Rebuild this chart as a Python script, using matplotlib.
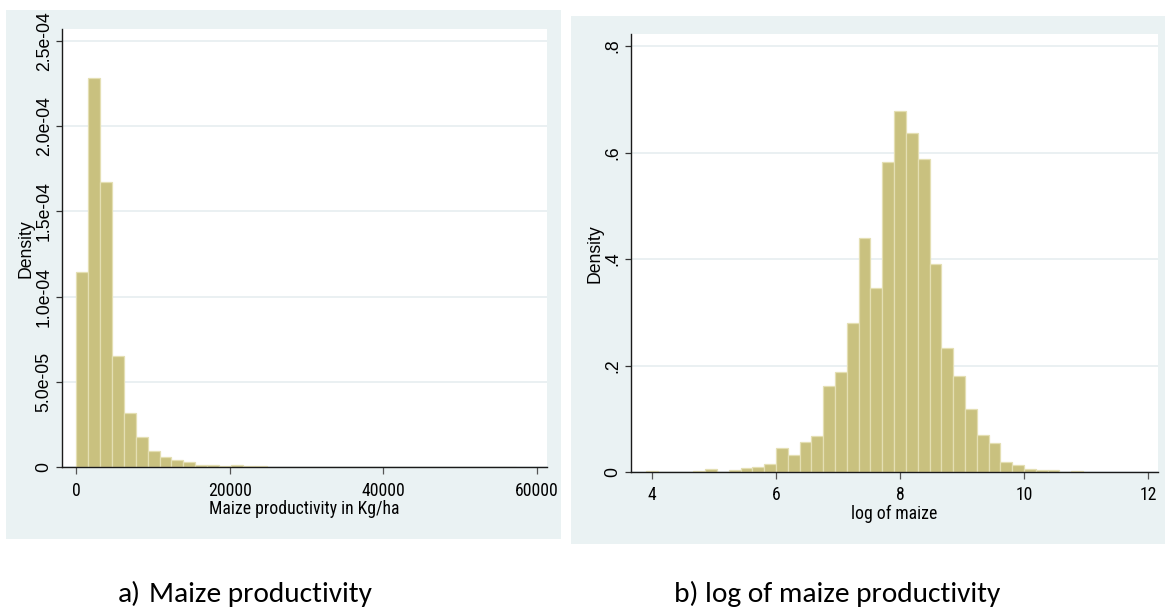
import matplotlib
matplotlib.use("Agg")
import numpy as np
import matplotlib.pyplot as plt
from matplotlib import font_manager
from matplotlib.patches import Rectangle


# Maize productivity (kg/ha): 37 equal-width bins, density scale
maize_bin_start = 49.3
maize_bin_width = 1547.0
maize_density = [
    1.147e-4, 2.284e-4, 1.674e-4, 6.52e-5, 3.19e-5, 1.75e-5, 9.5e-6, 5.8e-6,
    4.5e-6, 3.3e-6, 1.4e-6, 1.2e-6, 0.9e-6, 1.2e-6, 0.7e-6, 0.5e-6,
    0.2e-6, 0.4e-6, 0.1e-6, 0.4e-6, 0.4e-6, 0.4e-6, 0.1e-6, 0.4e-6,
    0, 0, 0, 0, 0, 0, 0, 0, 0, 0, 0, 0, 0.4e-6,
]

# log of maize productivity: 37 equal-width bins, density scale
log_bin_start = 3.898
log_bin_width = 0.1907
log_density = [
    0.0025, 0, 0, 0, 0.002, 0.005, 0, 0.003, 0.007, 0.009, 0.015, 0.046,
    0.032, 0.057, 0.068, 0.162, 0.188, 0.280, 0.439, 0.345, 0.582, 0.678,
    0.636, 0.588, 0.391, 0.233, 0.180, 0.118, 0.070, 0.055, 0.018, 0.013,
    0.005, 0.003, 0.003, 0, 0.002,
]

maize_xticks = [0, 20000, 40000, 60000]
maize_yticks = [0, 5e-05, 1e-04, 1.5e-04, 2e-04, 2.5e-04]
maize_ytick_labels = ["0", "5.0e-05", "1.0e-04", "1.5e-04", "2.0e-04", "2.5e-04"]
log_xticks = [4, 6, 8, 10, 12]
log_yticks = [0, 0.2, 0.4, 0.6, 0.8]
log_ytick_labels = ["0", ".2", ".4", ".6", ".8"]

BG = "#eaf2f3"
GRID = "#e6eef0"
BAR = "#c9c17f"
BAR_EDGE = "#e4dfb3"
AXIS = "#1a1a1a"

installed = {f.name for f in font_manager.fontManager.ttflist}


def pick(*names):
    for n in names:
        if n in installed:
            return n
    return "DejaVu Sans"


SANS = pick("Liberation Sans", "Arial")
NARROW = pick("Liberation Sans Narrow", "Arial Narrow", "Roboto Condensed", "Liberation Sans")
CAPTION = pick("Carlito", "Calibri", "Lato", "Open Sans")

W, H = 1165, 611
TICK_PT = 12.7


def px_rect(x0, y0, x1, y1):
    return [x0 / W, 1 - y1 / H, (x1 - x0) / W, (y1 - y0) / H]


def draw_hist(ax, start, width, density, xticks, xlim, yticks, ylabels, ylim,
              xlabel, ylabel_x, xlabel_y):
    edges = start + width * np.arange(len(density))
    ax.bar(edges, density, width=width, align="edge", color=BAR,
           edgecolor=BAR_EDGE, linewidth=0.9, zorder=2)

    ax.set_xlim(*xlim)
    ax.set_ylim(*ylim)
    ax.set_facecolor("white")
    ax.set_yticks(yticks)
    ax.set_yticklabels(ylabels, rotation=90, va="center", family=SANS,
                       fontsize=TICK_PT)
    ax.set_xticks(xticks)
    ax.set_xticklabels([str(t) for t in xticks], family=NARROW,
                       fontsize=TICK_PT)
    ax.grid(axis="y", color=GRID, linewidth=1.2, zorder=0)
    ax.set_axisbelow(True)

    for side in ("top", "right"):
        ax.spines[side].set_visible(False)
    for side in ("left", "bottom"):
        ax.spines[side].set_color(AXIS)
        ax.spines[side].set_linewidth(1.0)
        ax.spines[side].set_zorder(3)
    ax.tick_params(axis="y", direction="out", length=4.6, width=0.9,
                   color="#333333", pad=2)
    ax.tick_params(axis="x", direction="out", length=4.8, width=0.9,
                   color="#555555", pad=5.5)

    ax.text(ylabel_x, 0.5, "Density", transform=ax.transAxes, rotation=90,
            ha="center", va="center", family=SANS, fontsize=TICK_PT)
    ax.text(0.5, xlabel_y, xlabel, transform=ax.transAxes, ha="center",
            va="center", family=NARROW, fontsize=TICK_PT)


fig = plt.figure(figsize=(W / 100, H / 100), dpi=100)

# grey graph regions behind each panel
for x0, y0, x1, y1 in [(5.5, 10, 561, 539), (571, 15.5, 1165, 543.5)]:
    l, b, w, h = px_rect(x0, y0, x1, y1)
    fig.patches.append(Rectangle((l, b), w, h, transform=fig.transFigure,
                                 facecolor=BG, edgecolor="none", zorder=-10))

ax_a = fig.add_axes(px_rect(61.8, 29, 546.7, 467.3), zorder=1)
draw_hist(ax_a, maize_bin_start, maize_bin_width, maize_density,
          maize_xticks, (-1834, 61235), maize_yticks, maize_ytick_labels,
          (0, 2.569e-4), "Maize productivity in Kg/ha", -0.0738, -0.095)

ax_b = fig.add_axes(px_rect(630.7, 34.3, 1158, 472), zorder=1)
draw_hist(ax_b, log_bin_start, log_bin_width, log_density,
          log_xticks, (3.651, 12.163), log_yticks, log_ytick_labels,
          (0, 0.822), "log of maize", -0.0669, -0.096)

# panel captions below the graphs
base_y = 1 - 602 / H
cap_b = fig.text(674 / W, base_y, "b) log of maize productivity", fontsize=20,
                 family=CAPTION, va="baseline")
renderer = fig.canvas.get_renderer()
size = 20 * 326 / cap_b.get_window_extent(renderer).width
cap_b.set_fontsize(size)
fig.text(118 / W, base_y, "a)", fontsize=size, family=CAPTION, va="baseline")
fig.text(149 / W, base_y, "Maize productivity", fontsize=size,
         family=CAPTION, va="baseline")

fig.savefig("out.png", dpi=100)
